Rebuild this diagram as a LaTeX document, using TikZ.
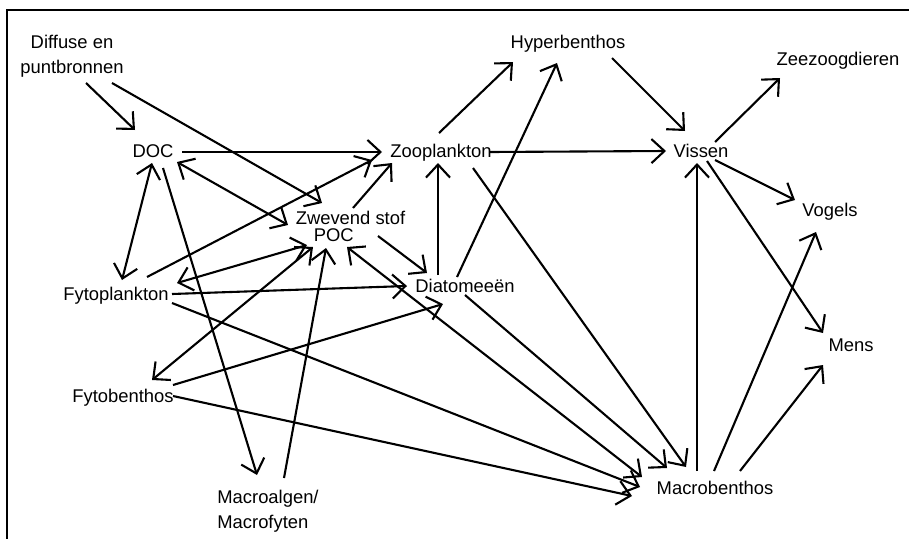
\documentclass[tikz,border=0pt]{standalone}
\usepackage{fontspec}
\setmainfont{Liberation Sans}
\usetikzlibrary{arrows.meta}
\tikzset{
  lbl/.style={font=\fontsize{18.4}{25}\selectfont, inner sep=0pt, anchor=base},
  arr/.style={line width=2.1pt, -{Straight Barb[length=13pt,width=24pt]}},
  dbl/.style={line width=2.1pt, {Straight Barb[length=13pt,width=24pt]}-{Straight Barb[length=13pt,width=24pt]}},
  frame/.style={line width=2.4pt}
}
\begin{document}
\begin{tikzpicture}[x=1pt,y=-1pt]
\useasboundingbox (0,0) rectangle (909,538);
\draw[frame] (7,540) -- (7,10) -- (911,10);
% nodes
\node[lbl, align=center] (src) at (72,73) {Diffuse en\\puntbronnen};
\node[lbl] (doc) at (153,157) {DOC};
\node[lbl] (zoo) at (441,157) {Zooplankton};
\node[lbl] (hyp) at (568,48) {Hyperbenthos};
\node[lbl] (zee) at (838,65) {Zeezoogdieren};
\node[lbl] (vis) at (701,157) {Vissen};
\node[lbl] (vog) at (830,216) {Vogels};
\node[lbl] (mens) at (851,351) {Mens};
\node[lbl] (mac) at (715,494) {Macrobenthos};
\node[lbl, align=left] (alg) at (268,528) {Macroalgen/\\Macrofyten};
\node[lbl] (fb) at (123,402) {Fytobenthos};
\node[lbl] (fp) at (116,300) {Fytoplankton};
\node[lbl, align=left, font=\fontsize{18.4}{17}\selectfont] (poc) at (350.5,241) {Zwevend stof\\\hspace*{18pt}POC};
\node[lbl] (dia) at (465,292) {Diatomee\"en};
% connectors
\draw[arr] ([shift={(14,10)}]src.base) -- ([shift={(-18,-27)}]doc.base);
\draw[arr] ([shift={(40,10)}]src.base) -- ([shift={(-28.5,-38)}]poc.base);
\draw[arr] ([shift={(29,-5)}]doc.base) -- ([shift={(-59,-5)}]zoo.base);
\draw[dbl] ([shift={(-1,6)}]doc.base) -- ([shift={(6,-20)}]fp.base);
\draw[arr] ([shift={(10,11)}]doc.base) -- ([shift={(-11,-53)}]alg.base);
\draw[dbl] ([shift={(24,5)}]doc.base) -- ([shift={(-62.5,-16)}]poc.base);
\draw[arr] ([shift={(2.5,-33)}]poc.base) -- ([shift={(-49,6)}]zoo.base);
\draw[arr] ([shift={(31,-23)}]fp.base) -- ([shift={(-69,3)}]zoo.base);
\draw[arr] ([shift={(-27,-17)}]dia.base) -- ([shift={(-3,6)}]zoo.base);
\draw[arr] ([shift={(-2,-24)}]zoo.base) -- ([shift={(-55,14)}]hyp.base);
\draw[arr] ([shift={(-8,-15)}]dia.base) -- ([shift={(-11,15)}]hyp.base);
\draw[arr] ([shift={(49,-5)}]zoo.base) -- ([shift={(-35,-6)}]vis.base);
\draw[arr] ([shift={(32,11)}]zoo.base) -- ([shift={(-29,-27)}]mac.base);
\draw[arr] ([shift={(44,10)}]hyp.base) -- ([shift={(-16,-26)}]vis.base);
\draw[arr] ([shift={(14,-15)}]vis.base) -- ([shift={(-58,13)}]zee.base);
\draw[arr] ([shift={(14,3)}]vis.base) -- ([shift={(-35,-16)}]vog.base);
\draw[arr] ([shift={(6,4)}]vis.base) -- ([shift={(-28,-18)}]mens.base);
\draw[arr] ([shift={(-18,-23)}]mac.base) -- ([shift={(-4,6)}]vis.base);
\draw[arr] ([shift={(-1,-23)}]mac.base) -- ([shift={(-14,16)}]vog.base);
\draw[arr] ([shift={(25,-23)}]mac.base) -- ([shift={(-28,14)}]mens.base);
\draw[arr] ([shift={(0,3)}]dia.base) -- ([shift={(-48,-26)}]mac.base);
\draw[dbl] ([shift={(-3.5,6)}]poc.base) -- ([shift={(-73,-17)}]mac.base);
\draw[arr] ([shift={(56,3)}]fp.base) -- ([shift={(-75,-7)}]mac.base);
\draw[arr] ([shift={(50,-6)}]fb.base) -- ([shift={(-83,2)}]mac.base);
\draw[dbl] ([shift={(61,-17)}]fp.base) -- ([shift={(-43.5,4)}]poc.base);
\draw[dbl] ([shift={(29,-22)}]fb.base) -- ([shift={(-37.5,6)}]poc.base);
\draw[arr] ([shift={(16,-50)}]alg.base) -- ([shift={(-24.5,7)}]poc.base);
\draw[arr] ([shift={(56,-6)}]fp.base) -- ([shift={(-58,-6)}]dia.base);
\draw[arr] ([shift={(50,-17)}]fb.base) -- ([shift={(-22,12)}]dia.base);
\draw[arr] ([shift={(27.5,-5)}]poc.base) -- ([shift={(-38,-19)}]dia.base);
\end{tikzpicture}
\end{document}
